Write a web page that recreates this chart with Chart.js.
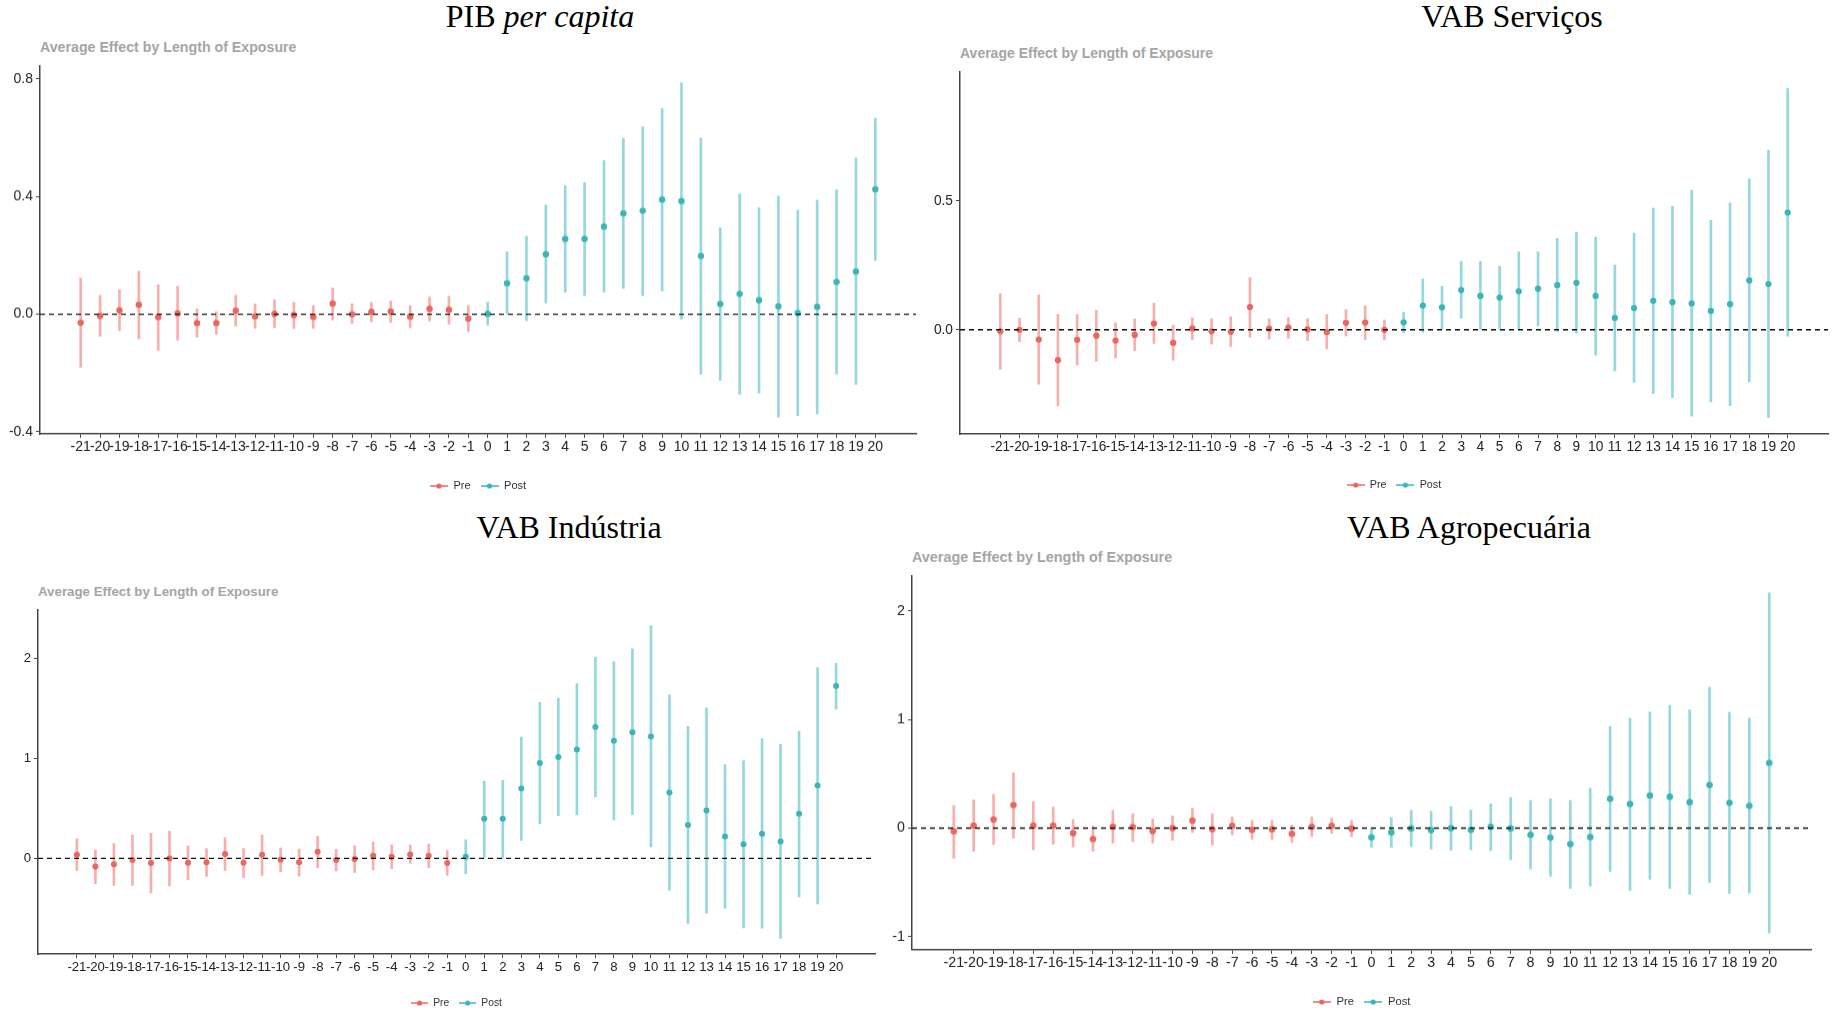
<!DOCTYPE html>
<html>
<head>
<meta charset="utf-8">
<script src="https://cdn.jsdelivr.net/npm/chart.js@4.4.1/dist/chart.umd.min.js"></script>
<style>
  html, body { margin: 0; padding: 0; overflow: hidden; background: #fff; }
  body { width: 1832px; height: 1012px; position: relative; font-family: "Liberation Sans", Arial, sans-serif; }
  .title { position: absolute; font-family: "Liberation Serif", "Times New Roman", serif; font-size: 32px; line-height: 32px; white-space: nowrap; transform: translateX(-50%); color: #000; }
  .sub { position: absolute; font-weight: bold; color: #a5a5a5; white-space: nowrap; line-height: 1; }
  .box { position: absolute; }
</style>
</head>
<body>
<div class="title" style="left:540px;top:0px">PIB <i>per capita</i></div>
<div class="title" style="left:1512px;top:0px">VAB Serviços</div>
<div class="title" style="left:569px;top:511px">VAB Indústria</div>
<div class="title" style="left:1469px;top:511px">VAB Agropecuária</div>

<div class="sub" style="left:40px;top:40px;font-size:14.2px">Average Effect by Length of Exposure</div>
<div class="sub" style="left:960px;top:46px;font-size:14px">Average Effect by Length of Exposure</div>
<div class="sub" style="left:38px;top:585px;font-size:13.3px">Average Effect by Length of Exposure</div>
<div class="sub" style="left:912px;top:550px;font-size:14.4px">Average Effect by Length of Exposure</div>

<div class="box" id="b1"><canvas id="c1"></canvas></div>
<div class="box" id="b2"><canvas id="c2"></canvas></div>
<div class="box" id="b3"><canvas id="c3"></canvas></div>
<div class="box" id="b4"><canvas id="c4"></canvas></div>

<script>
// event time (length of exposure)
const periods = [-21, -20, -19, -18, -17, -16, -15, -14, -13, -12, -11, -10, -9, -8, -7, -6, -5, -4, -3, -2, -1,
  0, 1, 2, 3, 4, 5, 6, 7, 8, 9, 10, 11, 12, 13, 14, 15, 16, 17, 18, 19, 20];

// PIB per capita
const pibEst = [-0.029, -0.006, 0.013, 0.032, -0.010, 0.003, -0.030, -0.030, 0.012, -0.007, 0.001, -0.003, -0.009, 0.036, 0.000, 0.008, 0.009, -0.008, 0.018, 0.015, -0.015,
  0.001, 0.105, 0.122, 0.204, 0.256, 0.256, 0.298, 0.343, 0.352, 0.390, 0.385, 0.198, 0.035, 0.069, 0.047, 0.027, 0.004, 0.025, 0.110, 0.145, 0.425];
const pibLo = [-0.180, -0.075, -0.056, -0.084, -0.123, -0.088, -0.078, -0.068, -0.041, -0.048, -0.046, -0.049, -0.048, -0.020, -0.031, -0.026, -0.028, -0.046, -0.023, -0.034, -0.059,
  -0.037, 0.000, -0.022, 0.038, 0.075, 0.063, 0.075, 0.088, 0.063, 0.079, -0.017, -0.204, -0.225, -0.272, -0.268, -0.350, -0.345, -0.339, -0.204, -0.239, 0.183];
const pibHi = [0.123, 0.064, 0.083, 0.146, 0.100, 0.095, 0.018, 0.009, 0.065, 0.035, 0.049, 0.041, 0.029, 0.089, 0.036, 0.040, 0.045, 0.029, 0.058, 0.061, 0.030,
  0.041, 0.212, 0.265, 0.371, 0.438, 0.447, 0.522, 0.598, 0.638, 0.699, 0.787, 0.599, 0.294, 0.409, 0.362, 0.402, 0.354, 0.388, 0.423, 0.531, 0.667];
const pibTicks = [-0.4, 0, 0.4, 0.8];
const pibTickLabels = ['-0.4', '0.0', '0.4', '0.8'];

// VAB Serviços
const servEst = [-0.006, 0.000, -0.038, -0.118, -0.039, -0.023, -0.042, -0.020, 0.024, -0.051, 0.005, -0.006, -0.008, 0.088, 0.004, 0.008, 0.001, -0.009, 0.027, 0.028, 0.000,
  0.029, 0.094, 0.087, 0.154, 0.131, 0.125, 0.149, 0.159, 0.173, 0.182, 0.131, 0.046, 0.084, 0.112, 0.107, 0.102, 0.073, 0.099, 0.191, 0.177, 0.454];
const servLo = [-0.153, -0.046, -0.211, -0.295, -0.136, -0.122, -0.109, -0.081, -0.053, -0.118, -0.038, -0.056, -0.065, -0.029, -0.036, -0.033, -0.042, -0.074, -0.024, -0.038, -0.039,
  -0.011, -0.009, 0.003, 0.045, 0.000, 0.003, 0.000, 0.015, -0.006, -0.014, -0.098, -0.159, -0.204, -0.247, -0.263, -0.335, -0.280, -0.294, -0.202, -0.340, -0.025];
const servHi = [0.140, 0.045, 0.135, 0.060, 0.059, 0.076, 0.027, 0.042, 0.103, 0.018, 0.046, 0.043, 0.050, 0.202, 0.042, 0.047, 0.042, 0.059, 0.078, 0.093, 0.038,
  0.067, 0.197, 0.169, 0.265, 0.265, 0.246, 0.302, 0.302, 0.354, 0.378, 0.359, 0.251, 0.374, 0.472, 0.478, 0.541, 0.424, 0.492, 0.585, 0.696, 0.935];
const servTicks = [0, 0.5];
const servTickLabels = ['0.0', '0.5'];

// VAB Indústria
const indEst = [0.036, -0.082, -0.059, -0.016, -0.046, 0.000, -0.043, -0.039, 0.043, -0.043, 0.036, -0.013, -0.039, 0.066, -0.016, -0.007, 0.026, 0.016, 0.039, 0.026, -0.046,
  0.016, 0.397, 0.397, 0.698, 0.954, 1.013, 1.089, 1.315, 1.177, 1.262, 1.220, 0.659, 0.334, 0.479, 0.220, 0.141, 0.246, 0.170, 0.446, 0.728, 1.725];
const indLo = [-0.121, -0.252, -0.269, -0.269, -0.344, -0.275, -0.213, -0.180, -0.121, -0.190, -0.170, -0.134, -0.177, -0.092, -0.125, -0.141, -0.115, -0.102, -0.049, -0.092, -0.170,
  -0.154, 0.010, 0.003, 0.180, 0.348, 0.426, 0.436, 0.616, 0.384, 0.436, 0.115, -0.318, -0.652, -0.548, -0.498, -0.695, -0.698, -0.800, -0.384, -0.456, 1.492];
const indHi = [0.197, 0.085, 0.148, 0.233, 0.252, 0.272, 0.125, 0.098, 0.207, 0.098, 0.233, 0.105, 0.092, 0.223, 0.092, 0.125, 0.164, 0.134, 0.134, 0.144, 0.079,
  0.187, 0.774, 0.780, 1.213, 1.561, 1.603, 1.748, 2.013, 1.967, 2.095, 2.328, 1.636, 1.321, 1.505, 0.938, 0.977, 1.197, 1.141, 1.272, 1.908, 1.951];
const indTicks = [0, 1, 2];
const indTickLabels = ['0', '1', '2'];

// VAB Agropecuária
const agroEst = [-0.030, 0.024, 0.079, 0.212, 0.024, 0.024, -0.045, -0.100, 0.012, 0.009, -0.027, 0.000, 0.070, -0.009, 0.021, -0.015, -0.012, -0.052, 0.012, 0.021, -0.003,
  -0.085, -0.039, -0.003, -0.018, 0.000, -0.015, 0.012, -0.003, -0.061, -0.088, -0.148, -0.082, 0.270, 0.221, 0.300, 0.288, 0.239, 0.397, 0.233, 0.206, 0.600];
const agroLo = [-0.276, -0.212, -0.152, -0.091, -0.200, -0.148, -0.173, -0.212, -0.139, -0.124, -0.136, -0.112, -0.039, -0.155, -0.061, -0.103, -0.103, -0.133, -0.079, -0.048, -0.079,
  -0.176, -0.176, -0.170, -0.194, -0.203, -0.200, -0.206, -0.291, -0.376, -0.442, -0.555, -0.533, -0.400, -0.573, -0.470, -0.555, -0.609, -0.500, -0.600, -0.597, -0.964];
const agroHi = [0.209, 0.261, 0.309, 0.509, 0.245, 0.194, 0.079, 0.018, 0.164, 0.133, 0.085, 0.112, 0.182, 0.133, 0.103, 0.070, 0.070, 0.030, 0.103, 0.091, 0.070,
  -0.003, 0.097, 0.164, 0.155, 0.200, 0.167, 0.224, 0.282, 0.255, 0.270, 0.255, 0.367, 0.936, 1.012, 1.070, 1.130, 1.088, 1.297, 1.067, 1.012, 2.164];
const agroTicks = [-1, 0, 1, 2];
const agroTickLabels = ['-1', '0', '1', '2'];

const PRE_COLOR = '#e9675f';
const PRE_BAR = 'rgba(240, 110, 102, 0.55)';
const POST_COLOR = '#3db5b8';
const POST_BAR = 'rgba(40, 180, 185, 0.5)';
const X_MIN = -23.1, X_MAX = 22.1;

Chart.defaults.font.family = '"Liberation Sans", Arial, sans-serif';

// little line-with-dot glyph like the ggplot legend key
function legendGlyph(color, k) {
  const c = document.createElement('canvas');
  c.width = Math.round(18 * k);
  c.height = 8;
  const g = c.getContext('2d');
  g.strokeStyle = color;
  g.lineWidth = 1.5;
  g.beginPath();
  g.moveTo(0, 4);
  g.lineTo(c.width, 4);
  g.stroke();
  g.fillStyle = color;
  g.beginPath();
  g.arc(c.width / 2, 4, 2.6, 0, Math.PI * 2);
  g.fill();
  return c;
}

function makePanel(p) {
  const fs = 14 * p.k;
  const lfs = 11 * p.k;
  const lp = 10;
  const yw = Math.min(p.left, 40);
  const xh = p.legendY - p.bottom - lp - lfs / 2;
  const h = (p.bottom - p.top) + xh + lfs + lp + 10;

  const box = document.getElementById(p.box);
  box.style.left = (p.left - yw) + 'px';
  box.style.top = p.top + 'px';
  box.style.width = (p.right - p.left + yw) + 'px';
  box.style.height = h + 'px';

  const pre = [], post = [], preBars = [], postBars = [];
  periods.forEach((t, i) => {
    const pt = {x: t, y: p.est[i]};
    const bar = {x: t, y: [p.lo[i], p.hi[i]]};
    if (t < 0) { pre.push(pt); preBars.push(bar); }
    else { post.push(pt); postBars.push(bar); }
  });

  new Chart(document.getElementById(p.id), {
    type: 'scatter',
    data: {
      datasets: [
        {
          type: 'line',
          label: '',
          data: [{x: X_MIN, y: 0}, {x: X_MAX, y: 0}],
          borderColor: '#111',
          borderWidth: 1.4,
          borderDash: [5, 4],
          pointRadius: 0,
          order: 0
        },
        {label: 'Pre', data: pre, backgroundColor: PRE_COLOR, borderWidth: 0, pointRadius: 3.2 * p.k, order: 1},
        {label: 'Post', data: post, backgroundColor: POST_COLOR, borderWidth: 0, pointRadius: 3.2 * p.k, order: 1},
        {type: 'bar', label: '', data: preBars, backgroundColor: PRE_BAR, barThickness: 2, grouped: false, order: 2},
        {type: 'bar', label: '', data: postBars, backgroundColor: POST_BAR, barThickness: 2, grouped: false, order: 2}
      ]
    },
    options: {
      responsive: true,
      maintainAspectRatio: false,
      animation: false,
      events: [],
      layout: {padding: 0},
      plugins: {
        tooltip: {enabled: false},
        title: {display: false},
        legend: {
          display: true,
          position: 'bottom',
          fullSize: false,
          labels: {
            color: '#333',
            font: {size: lfs},
            padding: lp,
            usePointStyle: true,
            pointStyleWidth: 18 * p.k,
            filter: item => item.text !== '',
            generateLabels: chart => {
              const items = Chart.defaults.plugins.legend.labels.generateLabels(chart);
              items.forEach(it => {
                it.pointStyle = legendGlyph(it.text === 'Pre' ? PRE_COLOR : POST_COLOR, p.k);
              });
              return items;
            }
          }
        }
      },
      scales: {
        x: {
          type: 'linear',
          min: X_MIN,
          max: X_MAX,
          offset: false,
          afterBuildTicks: s => { s.ticks = periods.map(v => ({value: v})); },
          afterFit: s => { s.height = xh; s.paddingLeft = 0; s.paddingRight = 0; },
          ticks: {
            autoSkip: false,
            maxRotation: 0,
            minRotation: 0,
            padding: 1,
            color: '#222',
            font: {size: fs},
            callback: v => String(v)
          },
          grid: {offset: false, drawOnChartArea: false, drawTicks: true, tickLength: 4, color: '#444'},
          border: {display: true, color: '#444', width: 1.5}
        },
        y: {
          type: 'linear',
          min: p.ymin,
          max: p.ymax,
          afterBuildTicks: s => { s.ticks = p.ticks.map(v => ({value: v})); },
          afterFit: s => { s.width = yw; s.paddingTop = 0; s.paddingBottom = 0; },
          ticks: {
            padding: 3,
            color: '#222',
            font: {size: fs},
            callback: v => p.tickLabels[p.ticks.indexOf(v)]
          },
          grid: {drawOnChartArea: false, drawTicks: true, tickLength: 4, color: '#444'},
          border: {display: true, color: '#444', width: 1.5}
        }
      }
    }
  });
}

makePanel({id: 'c1', box: 'b1', est: pibEst, lo: pibLo, hi: pibHi, ticks: pibTicks, tickLabels: pibTickLabels,
  left: 40, right: 920, top: 62, bottom: 433, ymin: -0.407, ymax: 0.844, legendY: 485, k: 1.0});
makePanel({id: 'c2', box: 'b2', est: servEst, lo: servLo, hi: servHi, ticks: servTicks, tickLabels: servTickLabels,
  left: 960, right: 1832, top: 68, bottom: 434, ymin: -0.404, ymax: 0.999, legendY: 485, k: 0.98});
makePanel({id: 'c3', box: 'b3', est: indEst, lo: indLo, hi: indHi, ticks: indTicks, tickLabels: indTickLabels,
  left: 38, right: 879, top: 606, bottom: 954, ymin: -0.956, ymax: 2.484, legendY: 1003, k: 0.94});
makePanel({id: 'c4', box: 'b4', est: agroEst, lo: agroLo, hi: agroHi, ticks: agroTicks, tickLabels: agroTickLabels,
  left: 912, right: 1815, top: 572, bottom: 949, ymin: -1.12, ymax: 2.32, legendY: 1001, k: 1.02});
</script>
</body>
</html>
